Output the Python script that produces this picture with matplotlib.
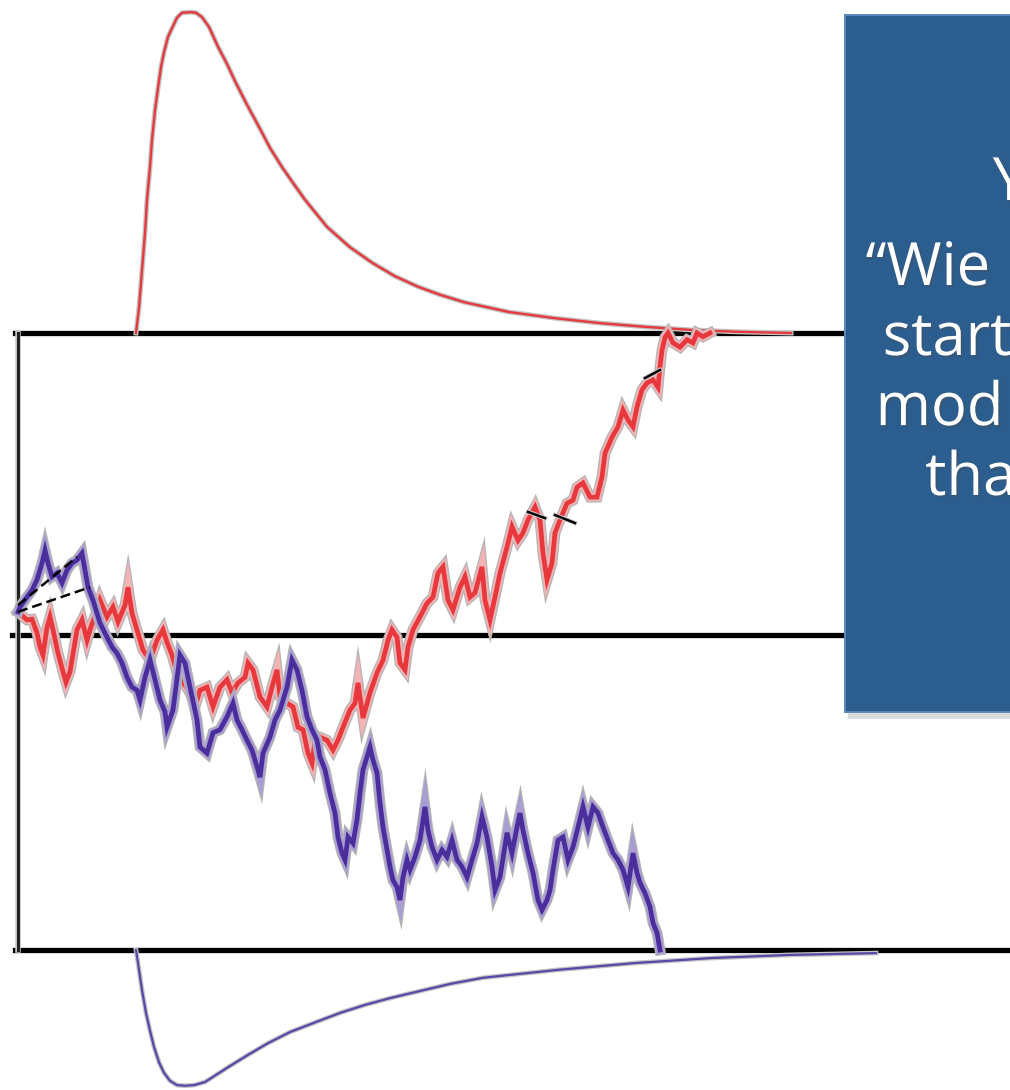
import matplotlib
matplotlib.use("Agg")
import matplotlib.pyplot as plt
import matplotlib.patheffects as pe
from matplotlib.patches import Rectangle

# decision bounds (evidence, % of boundary separation) and the reference line
LOWER = 0.0
UPPER = 100.0
MIDLINE = 51.0

# time (ms) / evidence samples for the two accumulation traces
red_t = [0, 18, 28, 38, 44, 50, 58, 64, 70, 80, 90, 96, 104, 108, 118, 128, 138, 144,
         158, 164, 178, 190, 200, 214, 220, 228, 238, 250, 264, 278, 290, 298, 308, 318,
         330, 344, 354, 364, 378, 390, 404, 418, 428, 440, 454, 460, 470, 484, 498, 508,
         518, 524, 538, 550, 560, 570, 580, 588, 594, 604, 618, 630, 640, 650, 664, 674,
         680, 690, 704, 718, 730, 740, 748, 758, 764, 774, 780, 790, 804, 818, 830, 840,
         850, 860, 870, 884, 894, 904, 914, 928, 934, 944, 954, 964, 978, 988, 1000, 1010,
         1020, 1034, 1044, 1050, 1058, 1068, 1074, 1084, 1098, 1110, 1118, 1130, 1144,
         1158, 1168, 1174, 1188, 1200, 1210, 1220, 1230, 1238, 1248, 1258, 1270, 1280,
         1284, 1288, 1294, 1300, 1310, 1324, 1338, 1350, 1358, 1370, 1384]
red_ev = [54.8, 53.5, 53.6, 51.4, 49.1, 47.8, 52.3, 54.0, 51.9, 48.1, 45.1, 43.4, 45.1,
          47.0, 51.9, 53.5, 50.2, 51.9, 55.1, 56.7, 54.0, 55.6, 53.2, 55.9, 58.8, 54.6,
          51.9, 48.6, 47.0, 50.2, 51.9, 49.9, 47.8, 44.9, 43.4, 41.7, 39.4, 42.1, 42.6,
          39.4, 42.6, 43.8, 41.7, 43.3, 44.2, 46.5, 45.4, 41.0, 39.4, 42.6, 45.4, 41.0,
          40.0, 39.4, 36.1, 35.7, 31.9, 30.3, 34.0, 34.5, 34.0, 32.4, 34.0, 36.1, 38.9,
          40.0, 43.3, 37.6, 41.7, 44.9, 47.0, 50.2, 51.9, 50.7, 46.5, 45.4, 49.1, 51.9,
          54.0, 56.2, 57.2, 61.1, 62.1, 56.7, 55.1, 58.8, 60.5, 57.2, 57.9, 62.1, 56.7,
          53.5, 57.2, 61.1, 65.3, 68.6, 66.4, 67.6, 69.7, 71.8, 69.7, 64.3, 60.0, 62.7,
          67.6, 69.7, 72.4, 72.9, 75.0, 75.7, 73.4, 73.4, 76.7, 80.5, 83.1, 84.8, 87.5,
          85.9, 84.8, 88.0, 90.8, 91.9, 92.4, 91.2, 94.5, 97.2, 99.3, 100.0, 98.4, 97.7,
          98.9, 98.4, 100.0, 99.4, 100.0]

blue_t = [0, 4, 18, 28, 38, 48, 54, 60, 68, 78, 88, 98, 108, 118, 128, 134, 140, 150,
          158, 164, 178, 188, 198, 208, 218, 228, 238, 244, 254, 264, 274, 284, 294, 298,
          310, 324, 334, 344, 358, 364, 378, 390, 404, 418, 430, 438, 448, 458, 468, 478,
          484, 490, 504, 514, 524, 538, 548, 558, 568, 578, 588, 598, 604, 614, 624, 634,
          640, 648, 654, 660, 670, 678, 684, 690, 698, 704, 710, 718, 724, 730, 738, 744,
          750, 758, 764, 770, 778, 784, 794, 804, 814, 820, 828, 838, 848, 858, 868, 878,
          888, 898, 908, 918, 928, 938, 948, 954, 964, 978, 988, 998, 1004, 1010, 1020,
          1030, 1040, 1048, 1058, 1064, 1070, 1080, 1090, 1100, 1110, 1120, 1130, 1140,
          1150, 1160, 1170, 1180, 1190, 1200, 1210, 1220, 1230, 1238, 1244, 1254, 1264,
          1270, 1278, 1284]
blue_ev = [54.8, 55.6, 57.2, 58.3, 60.0, 62.7, 64.8, 62.7, 60.5, 61.1, 59.5, 61.6, 62.7,
           63.2, 64.3, 61.6, 58.8, 56.7, 54.6, 53.0, 50.7, 49.1, 48.1, 46.5, 44.2, 42.6,
           42.1, 40.5, 44.2, 47.0, 43.8, 40.5, 38.6, 36.1, 38.9, 47.8, 46.5, 42.6, 37.3,
           32.9, 31.9, 35.2, 35.7, 37.8, 40.0, 37.3, 35.7, 34.0, 32.4, 29.7, 28.0, 31.9,
           34.5, 37.3, 38.9, 42.6, 47.0, 45.4, 42.1, 37.8, 35.7, 34.0, 31.3, 29.2, 25.4,
           22.2, 18.3, 15.7, 14.6, 18.3, 17.3, 21.1, 25.4, 29.2, 31.3, 32.9, 30.8, 28.7,
           23.8, 19.9, 16.2, 13.5, 11.3, 10.2, 8.1, 11.8, 14.6, 13.0, 15.1, 17.8, 23.2,
           19.4, 16.7, 14.6, 16.2, 15.1, 17.8, 14.6, 13.5, 11.8, 14.6, 17.3, 21.6, 18.3,
           13.5, 9.7, 11.8, 19.0, 15.7, 19.9, 22.2, 19.4, 15.7, 12.5, 8.1, 6.5, 8.1, 9.7,
           13.0, 17.8, 18.3, 14.6, 16.7, 19.9, 23.2, 19.9, 23.2, 22.2, 19.9, 17.8, 15.7,
           14.6, 13.0, 10.2, 15.7, 12.5, 10.9, 9.2, 7.0, 4.4, 2.8, 0.0]

# response-time densities drawn outside each bound
upper_rt = [236, 242, 246, 250, 254, 258, 264, 268, 274, 280, 286, 292, 300, 308, 318,
            328, 346, 356, 368, 382, 400, 418, 436, 458, 482, 504, 528, 552, 574, 618,
            664, 710, 754, 800, 844, 892, 982, 1074, 1164, 1254, 1346, 1436, 1546]
upper_dens = [0, 4.1, 8.1, 12.2, 16.2, 21.6, 26.9, 31.3, 36.1, 39.7, 43.1, 45.5, 48.0,
              49.4, 51.1, 51.9, 52.0, 51.9, 51.2, 49.6, 46.4, 43.6, 40.5, 37.0, 33.4,
              30.0, 26.9, 24.1, 21.6, 17.2, 13.9, 11.3, 9.2, 7.5, 6.2, 5.0, 3.4, 2.4,
              1.6, 1.0, 0.5, 0.2, 0]
lower_rt = [236, 240, 248, 256, 264, 272, 282, 292, 304, 318, 334, 352, 374, 420, 460,
            500, 544, 592, 644, 694, 744, 796, 864, 930, 1082, 1236, 1388, 1542, 1716]
lower_dens = [0, 2.1, 6.5, 10.2, 13.1, 15.7, 18.2, 19.9, 21.2, 21.9, 22.0, 21.9, 21.4,
              19.0, 17.0, 15.1, 13.3, 11.8, 10.2, 8.9, 7.8, 6.8, 5.5, 4.5, 3.2, 2.1,
              1.3, 0.8, 0.5]

# drift-rate guides at the start and a few tick marks on the upper trace
drift_a = ([0, 118], [55.9, 63.7])
drift_b = ([0, 144], [54.8, 58.8])
tick_marks = [([1020, 1054], [71.0, 70.0]),
              ([1074, 1114], [70.5, 69.2]),
              ([1254, 1284], [92.7, 94.0])]

box_lines = ["Y", "\u201cWie", "start", "mod", "tha"]

RED = "#e6383d"
RED_HALO = "#f3b3b5"
BLUE = "#4a2f9c"
BLUE_HALO = "#a99ed3"
HALO = "#b4b4b4"


def halo(width, inner_width, inner_color):
    return [pe.Stroke(linewidth=width, foreground=HALO),
            pe.Stroke(linewidth=inner_width, foreground=inner_color),
            pe.Normal()]


fig = plt.figure(figsize=(10.1, 10.9), dpi=100)
ax = fig.add_axes([0, 0, 1, 1])
ax.set_xlim(-36, 1984)
ax.set_ylim(-22.69, 153.97)
ax.axis("off")

# bounds and starting reference
ax.plot([-6, 2100], [UPPER, UPPER], color="black", lw=3.8, zorder=2)
ax.plot([-12, 1700], [MIDLINE, MIDLINE], color="black", lw=3.8, zorder=2)
ax.plot([-6, 2100], [LOWER, LOWER], color="black", lw=3.8, zorder=2)
ax.plot([0, 0], [LOWER, UPPER], color="#222222", lw=2.2, zorder=2,
        path_effects=[pe.Stroke(linewidth=4.0, foreground="#c8c8c8"), pe.Normal()])

# response-time distributions
ax.plot(upper_rt, [UPPER + d for d in upper_dens], color=RED, lw=1.7, zorder=3,
        path_effects=[pe.Stroke(linewidth=3.6, foreground="#c4c4c4"), pe.Normal()])
ax.plot(lower_rt, [LOWER - d for d in lower_dens], color="#5a45a8", lw=1.6, zorder=3,
        path_effects=[pe.Stroke(linewidth=3.4, foreground="#c4c4c4"), pe.Normal()])

# accumulation traces
ax.plot(red_t, red_ev, color=RED, lw=3.4, zorder=4, solid_joinstyle="miter",
        path_effects=halo(7.8, 6.0, RED_HALO))
ax.plot(blue_t, blue_ev, color=BLUE, lw=3.4, zorder=5, solid_joinstyle="miter",
        path_effects=halo(7.8, 6.0, BLUE_HALO))

# drift guides
for xs, ys in (drift_a, drift_b):
    ax.plot(xs, ys, color="black", lw=1.8, ls=(0, (4, 2)), zorder=6)
for xs, ys in tick_marks:
    ax.plot(xs, ys, color="black", lw=1.8, zorder=6,
            path_effects=[pe.Stroke(linewidth=3.2, foreground="#d0d0d0"), pe.Normal()])

# text box on the right
shadow = Rectangle((0.840, 0.340), 0.3, 0.644, transform=fig.transFigure,
                   facecolor="#9a9a9a", alpha=0.35, edgecolor="none", zorder=7)
box = Rectangle((0.8366, 0.3468), 0.3, 0.6394, transform=fig.transFigure,
                facecolor="#2b5d8e", edgecolor="#5c88b8", lw=1.4, zorder=8)
fig.add_artist(shadow)
fig.add_artist(box)

line_x = [0.983, 0.857, 0.874, 0.867, 0.916]
line_y = [0.8165, 0.7385, 0.6743, 0.610, 0.5459]
for txt, x, y in zip(box_lines, line_x, line_y):
    fig.text(x, y, txt, color="white", fontsize=43, family=["Open Sans", "DejaVu Sans"],
             ha="left", va="baseline", zorder=9,
             path_effects=[pe.withSimplePatchShadow(offset=(1.5, -1.5), alpha=0.35)])

fig.savefig("out.png", dpi=100)
